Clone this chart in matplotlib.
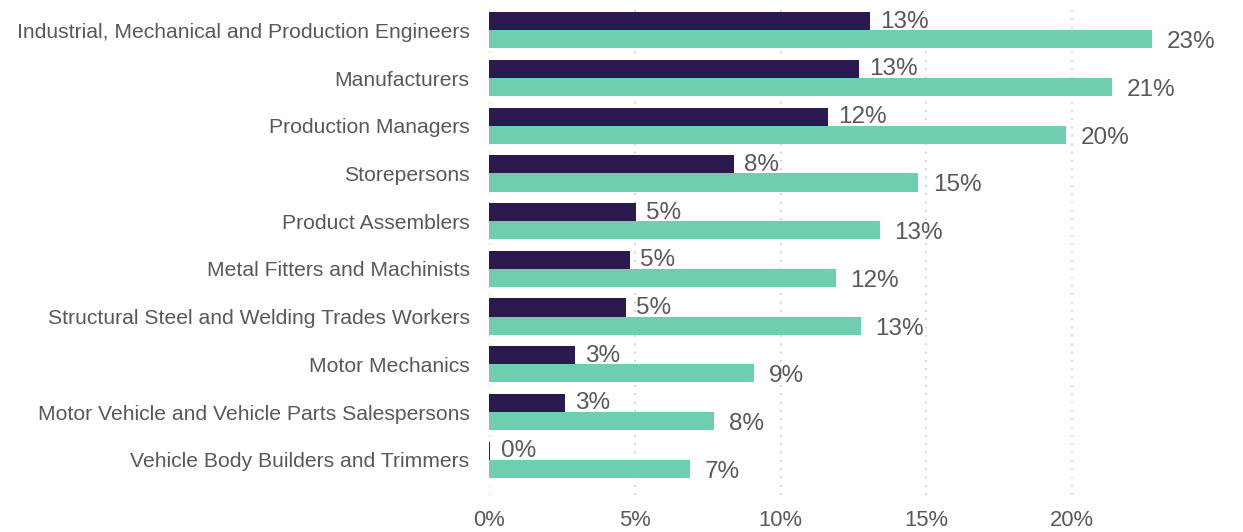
import matplotlib.pyplot as plt
import numpy as np

plt.rcParams['font.family'] = ['Liberation Sans', 'DejaVu Sans']

occupations = [
    'Industrial, Mechanical and Production Engineers',
    'Manufacturers',
    'Production Managers',
    'Storepersons',
    'Product Assemblers',
    'Metal Fitters and Machinists',
    'Structural Steel and Welding Trades Workers',
    'Motor Mechanics',
    'Motor Vehicle and Vehicle Parts Salespersons',
    'Vehicle Body Builders and Trimmers',
]
series_a = [13.07, 12.69, 11.63, 8.40, 5.04, 4.84, 4.70, 2.95, 2.61, 0.05]
series_b = [22.74, 21.37, 19.79, 14.72, 13.41, 11.90, 12.76, 9.09, 7.72, 6.90]
x_ticks = [0, 5, 10, 15, 20]

dark = '#2b1a4f'
green = '#6fcdb0'
text_col = '#595959'

fig = plt.figure(figsize=(12.43, 5.32), dpi=100)
ax = fig.add_axes([0.3934, 0.0695, 0.5863, 0.9211])

y = np.arange(len(occupations))
h = 0.38
ax.barh(y - h / 2, series_a, height=h, color=dark, zorder=3)
ax.barh(y + h / 2, series_b, height=h, color=green, zorder=3)

# value labels next to each bar
for yi, a, b in zip(y, series_a, series_b):
    ax.text(a + 0.35, yi - h / 2 + 0.01, f'{round(a):.0f}%', va='center', ha='left',
            fontsize=17.5, color=text_col, zorder=4)
    ax.text(b + 0.5, yi + h / 2 + 0.06, f'{round(b):.0f}%', va='center', ha='left',
            fontsize=17.5, color=text_col, zorder=4)

ax.set_xlim(0, 25)
ax.set_ylim(9.74, -0.53)
ax.set_yticks(y)
ax.set_yticklabels(occupations, fontsize=15.2, color=text_col)
ax.set_xticks(x_ticks)
ax.set_xticklabels([f'{t}%' for t in x_ticks], fontsize=15.8, color=text_col)
ax.tick_params(axis='both', length=0)
ax.tick_params(axis='y', pad=14)
ax.tick_params(axis='x', pad=11)

for t in x_ticks:
    ax.axvline(t, color='#c8c8c8', linestyle=(0, (1, 4)), linewidth=1.2, zorder=1)

for s in ax.spines.values():
    s.set_visible(False)

fig.savefig('out.png', dpi=100)
